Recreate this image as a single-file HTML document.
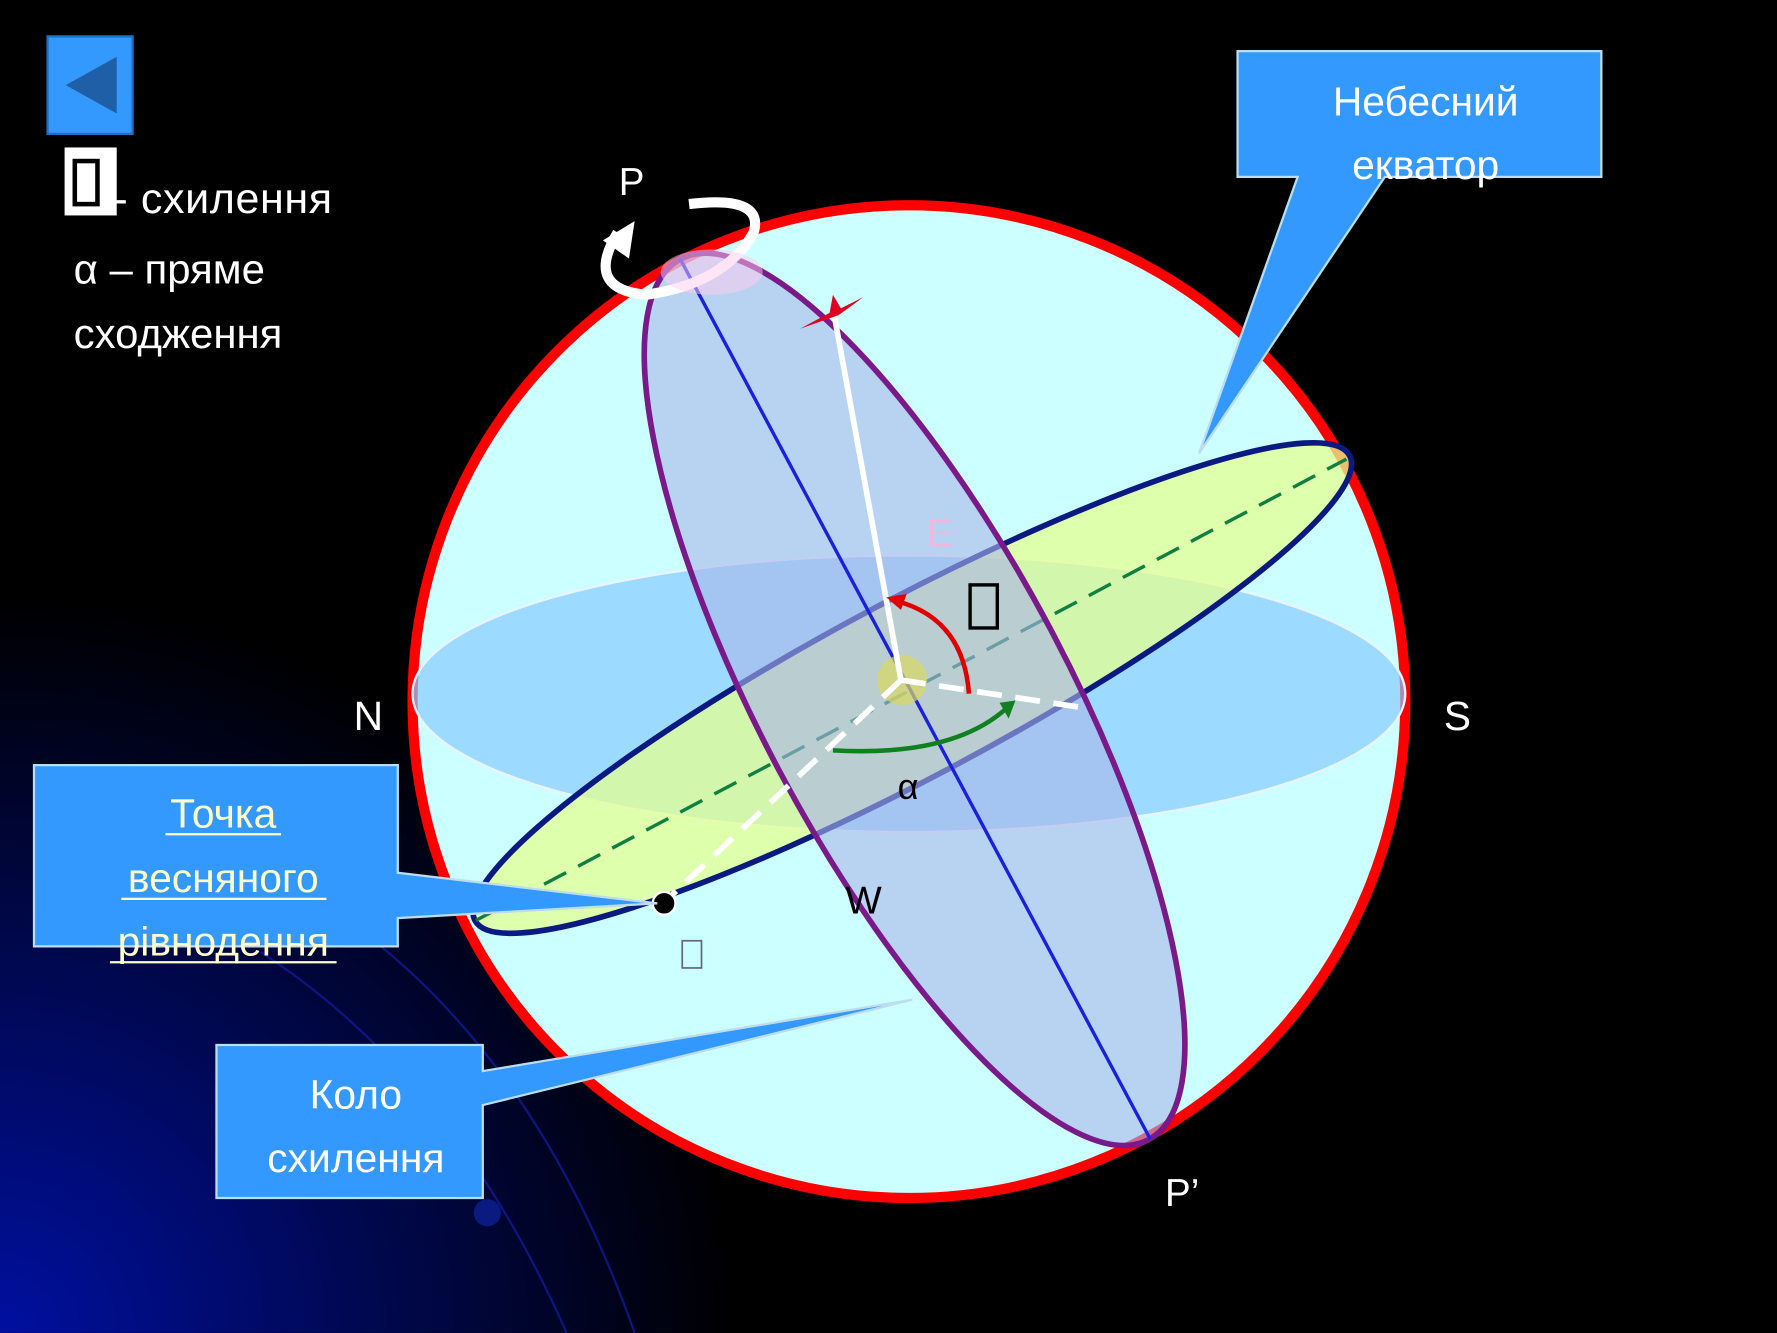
<!DOCTYPE html>
<html><head><meta charset="utf-8"><style>
html,body{margin:0;padding:0;background:#000;}
svg{display:block}
text{font-family:"Liberation Sans",sans-serif;}
</style></head><body>
<svg width="1777" height="1333" viewBox="0 0 1568 1176" xmlns="http://www.w3.org/2000/svg">
<defs>
<radialGradient id="bg" cx="0" cy="1176" r="650" gradientUnits="userSpaceOnUse">
<stop offset="0" stop-color="#0010a0"/><stop offset="0.5" stop-color="#000850"/><stop offset="1" stop-color="#000"/>
</radialGradient>
</defs>
<rect width="1568" height="1176" fill="url(#bg)"/>
<g fill="none" stroke="#0c1680" stroke-width="2">
<path d="M330 830 Q480 950 560 1176"/>
<path d="M230 840 Q400 950 500 1176"/>
</g>
<circle cx="430" cy="1070" r="12" fill="#0a1a80"/>
<rect x="42" y="32" width="75" height="86" fill="#3399ff" stroke="#2070c0" stroke-width="2"/>
<polygon points="58,75 103,50 103,100" fill="#1f5fa8"/>
<rect x="57" y="130" width="46" height="60" fill="#fff"/>
<rect x="64" y="140" width="24" height="42" fill="#000"/>
<rect x="68" y="144" width="16" height="34" fill="#fff"/>
<text x="100" y="188" font-size="38" fill="#fff" textLength="193">- схилення</text>
<text x="65" y="250" font-size="37" fill="#fff">α – пряме</text>
<text x="65" y="307" font-size="37" fill="#fff">сходження</text>
<circle cx="802" cy="619" r="438" fill="#ccffff" stroke="#ff0000" stroke-width="9"/>
<ellipse cx="802" cy="612" rx="438" ry="122" fill="#88ccff" fill-opacity="0.7" stroke="#e8f4ff" stroke-width="2"/>
<ellipse cx="805" cy="607" rx="437" ry="78" transform="rotate(-28 805 607)" fill="#e4ff90" fill-opacity="0.75" stroke="#0a1a80" stroke-width="5"/>
<line x1="420" y1="812" x2="1188" y2="405" stroke="#108040" stroke-width="3" stroke-dasharray="22,12"/>
<ellipse cx="807" cy="617" rx="440" ry="135" transform="rotate(62 807 617)" fill="#aab4ea" fill-opacity="0.6" stroke="#7a1a8a" stroke-width="5"/>
<line x1="600" y1="228" x2="1015" y2="1005" stroke="#1a20e0" stroke-width="3"/>
<circle cx="796" cy="600" r="22" fill="#d8d860" fill-opacity="0.7"/>
<line x1="795" y1="600" x2="735" y2="272" stroke="#fff" stroke-width="5"/>
<line x1="795" y1="600" x2="585" y2="797" stroke="#fff" stroke-width="5" stroke-dasharray="22,12"/>
<line x1="795" y1="600" x2="960" y2="625" stroke="#fff" stroke-width="5" stroke-dasharray="22,12"/>
<path d="M790 530 Q850 545 855 612" fill="none" stroke="#e00000" stroke-width="4"/>
<polygon points="782,527 800,524 795,538" fill="#e00000"/>
<path d="M735 662 Q840 668 888 625" fill="none" stroke="#108020" stroke-width="4"/>
<polygon points="896,618 882,620 890,634" fill="#108020"/>
<polygon points="735,260 742,272 762,262 740,278 706,290 732,276" fill="#e00020"/>
<circle cx="586" cy="797" r="10" fill="#000" stroke="#fff" stroke-width="2"/>
<path d="M608 180 Q675 172 665 205 Q640 250 570 260 Q515 255 545 205" fill="none" stroke="#fff" stroke-width="9"/>
<polygon points="532,212 560,195 555,228" fill="#fff"/>
<ellipse cx="628" cy="240" rx="45" ry="20" fill="#ffccee" fill-opacity="0.5"/>
<text x="546" y="172" font-size="34" fill="#fff">P</text>
<text x="312" y="644" font-size="36" fill="#fff">N</text>
<text x="1274" y="644" font-size="36" fill="#fff">S</text>
<text x="1028" y="1064" font-size="34" fill="#fff">P’</text>
<text x="818" y="482" font-size="34" fill="#f0b8e0">E</text>
<text x="746" y="806" font-size="34" fill="#000">W</text>
<text x="792" y="705" font-size="32" fill="#000">α</text>
<rect x="856" y="516" width="24" height="38" fill="none" stroke="#000" stroke-width="3"/>
<rect x="602" y="830" width="17" height="24" fill="none" stroke="#667" stroke-width="1.5"/>
<polygon points="1092,45 1413,45 1413,156 1222,156 1058,400 1145,156 1092,156" fill="#3399ff" stroke="#bde" stroke-width="2"/>
<text x="1258" y="102" font-size="36" fill="#fff" text-anchor="middle">Небесний</text>
<text x="1258" y="158" font-size="36" fill="#fff" text-anchor="middle">екватор</text>
<polygon points="30,675 351,675 351,770 580,797 351,810 351,835 30,835" fill="#3399ff" stroke="#bde" stroke-width="2"/>
<g fill="#ffffcc" font-size="36" text-anchor="middle">
<text x="197" y="730">Точка</text>
<text x="197" y="787">весняного</text>
<text x="197" y="843">рівнодення</text>
</g>
<line x1="146" y1="736" x2="248" y2="736" stroke="#ffffcc" stroke-width="2"/>
<line x1="107" y1="793" x2="288" y2="793" stroke="#ffffcc" stroke-width="2"/>
<line x1="97" y1="849" x2="297" y2="849" stroke="#ffffcc" stroke-width="2"/>
<polygon points="191,922 426,922 426,945 805,882 426,975 426,1057 191,1057" fill="#3399ff" stroke="#bde" stroke-width="2"/>
<text x="314" y="978" font-size="36" fill="#fff" text-anchor="middle">Коло</text>
<text x="314" y="1034" font-size="36" fill="#fff" text-anchor="middle">схилення</text>
</svg>
</body></html>
